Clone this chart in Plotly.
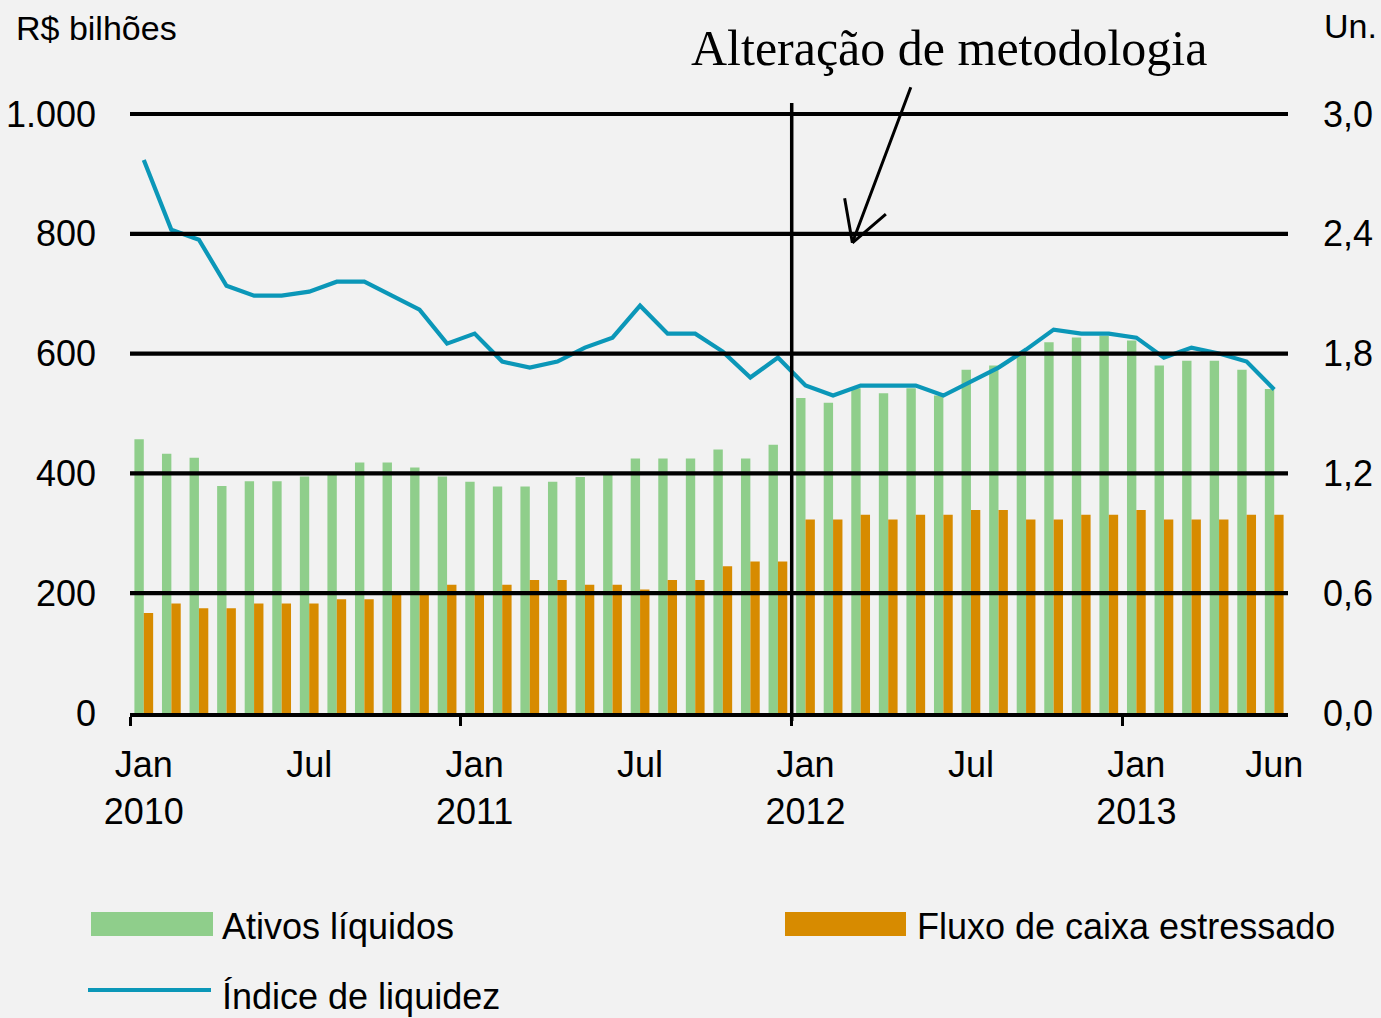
import plotly.graph_objects as go

# ---------------- data ----------------
meses_idx = list(range(42))  # Jan 2010 ... Jun 2013
tick_pos = [0, 6, 12, 18, 24, 30, 36, 41]
tick_txt = ["Jan<br>2010", "Jul", "Jan<br>2011", "Jul", "Jan<br>2012", "Jul", "Jan<br>2013", "Jun"]

ativos_liquidos = [
    457, 433, 426, 379, 387, 387, 395, 402, 418, 418, 410, 395,
    386, 378, 378, 386, 394, 402, 425, 425, 425, 440, 425, 448,
    526, 518, 542, 534, 542, 530, 573, 580, 596, 619, 627, 630,
    622, 580, 588, 588, 573, 541,
]
fluxo_caixa = [
    167, 183, 175, 175, 183, 183, 183, 190, 190, 198, 198, 214,
    198, 214, 222, 222, 214, 214, 206, 222, 222, 245, 253, 253,
    323, 323, 331, 323, 331, 331, 339, 339, 323, 323, 331, 331,
    339, 323, 323, 323, 331, 331,
]
indice_liquidez = [
    2.77, 2.42, 2.37, 2.14, 2.09, 2.09, 2.11, 2.16, 2.16, 2.09, 2.02, 1.85,
    1.90, 1.76, 1.73, 1.76, 1.83, 1.88, 2.04, 1.90, 1.90, 1.81, 1.68, 1.78,
    1.64, 1.59, 1.64, 1.64, 1.64, 1.59, 1.66, 1.73, 1.82, 1.92, 1.90, 1.90,
    1.88, 1.78, 1.83, 1.80, 1.76, 1.62,
]
left_ticks = [0, 200, 400, 600, 800, 1000]
left_txt = ["0", "200", "400", "600", "800", "1.000"]
right_ticks = [0, 0.6, 1.2, 1.8, 2.4, 3.0]
right_txt = ["0,0", "0,6", "1,2", "1,8", "2,4", "3,0"]

# ---------------- style ----------------
GREEN = "#8fce8b"
ORANGE = "#d78b00"
TEAL = "#0b97b8"
BG = "#f2f2f2"
SANS = "Liberation Sans, Arial, sans-serif"
SERIF = "Liberation Serif, Times New Roman, serif"

W, H = 1381, 1018
ML, MR, MT, MB = 130, 93, 114, 305
PW, PH = W - ML - MR, H - MT - MB
XR = [-0.5, 41.5]
YR = [0, 1000]


def px_x(p):
    return (p - ML) / PW


def px_y(p):
    return (H - MB - p) / PH


fig = go.Figure()
fig.add_trace(go.Bar(x=meses_idx, y=ativos_liquidos, name="Ativos líquidos",
                     marker=dict(color=GREEN, line=dict(width=0))))
fig.add_trace(go.Bar(x=meses_idx, y=fluxo_caixa, name="Fluxo de caixa estressado",
                     marker=dict(color=ORANGE, line=dict(width=0))))
fig.add_trace(go.Scatter(x=meses_idx, y=indice_liquidez, name="Índice de liquidez",
                         mode="lines", line=dict(color=TEAL, width=4.2), yaxis="y2"))

shapes = []
# horizontal gridlines (drawn above the bars as in the original)
for v in left_ticks[1:]:
    yp = (v - YR[0]) / (YR[1] - YR[0])
    shapes.append(dict(type="line", xref="paper", yref="paper", x0=0, x1=1, y0=yp, y1=yp,
                       line=dict(color="black", width=4.2), layer="above"))
# methodology-change vertical line between Dec 2011 and Jan 2012
xv = (23.5 - XR[0]) / (XR[1] - XR[0])
shapes.append(dict(type="line", xref="paper", yref="paper", x0=xv, x1=xv,
                   y0=px_y(721), y1=px_y(103), line=dict(color="black", width=3.5), layer="above"))

# custom legend swatches
shapes.append(dict(type="rect", xref="paper", yref="paper", x0=px_x(91), x1=px_x(213),
                   y0=px_y(936), y1=px_y(912), fillcolor=GREEN, line=dict(width=0)))
shapes.append(dict(type="rect", xref="paper", yref="paper", x0=px_x(785), x1=px_x(906),
                   y0=px_y(936), y1=px_y(912), fillcolor=ORANGE, line=dict(width=0)))
shapes.append(dict(type="line", xref="paper", yref="paper", x0=px_x(88), x1=px_x(211),
                   y0=px_y(990), y1=px_y(990), line=dict(color=TEAL, width=4)))

annotations = [
    dict(text="R$ bilhões", xref="paper", yref="paper", x=px_x(14), y=px_y(28),
         xanchor="left", yanchor="middle", showarrow=False, font=dict(size=34)),
    dict(text="Un.", xref="paper", yref="paper", x=px_x(1379), y=px_y(26),
         xanchor="right", yanchor="middle", showarrow=False, font=dict(size=34)),
    dict(text="Alteração de metodologia", xref="paper", yref="paper", x=px_x(949), y=px_y(48),
         xanchor="center", yanchor="middle", showarrow=False,
         font=dict(family=SERIF, size=50, color="black")),
    dict(text="Ativos líquidos", xref="paper", yref="paper", x=px_x(220), y=px_y(927),
         xanchor="left", yanchor="middle", showarrow=False),
    dict(text="Fluxo de caixa estressado", xref="paper", yref="paper", x=px_x(915), y=px_y(927),
         xanchor="left", yanchor="middle", showarrow=False),
    dict(text="Índice de liquidez", xref="paper", yref="paper", x=px_x(220), y=px_y(997),
         xanchor="left", yanchor="middle", showarrow=False),
]
# arrow (shaft + two barbs) pointing at the methodology change
tip_x, tip_y = 25.7, 785
for ax, ay in [(59, -157), (-8, -46), (35, -30)]:
    annotations.append(dict(text="", x=tip_x, y=tip_y, xref="x", yref="y", ax=ax, ay=ay,
                            axref="pixel", ayref="pixel", showarrow=True, arrowhead=0,
                            arrowwidth=3, arrowcolor="black", standoff=0, startstandoff=0))

fig.update_layout(
    width=W, height=H,
    margin=dict(l=ML, r=MR, t=MT, b=MB, autoexpand=False),
    paper_bgcolor=BG, plot_bgcolor=BG,
    font=dict(family=SANS, size=36, color="black"),
    barmode="group", bargap=0.32, bargroupgap=0,
    showlegend=False,
    xaxis=dict(range=XR, tickmode="array", tickvals=tick_pos, ticktext=tick_txt,
               ticks="", showgrid=False, zeroline=False, showline=True,
               linecolor="black", linewidth=4, ticklabelstandoff=17,
               minor=dict(tick0=-0.5, dtick=12, ticks="outside", ticklen=9,
                          tickwidth=3, tickcolor="black", showgrid=False)),
    yaxis=dict(range=YR, tickmode="array", tickvals=left_ticks, ticktext=left_txt,
               ticks="", showgrid=False, zeroline=False, showline=False,
               ticklabelstandoff=33),
    yaxis2=dict(range=[0, 3], tickmode="array", tickvals=right_ticks, ticktext=right_txt,
                overlaying="y", side="right", ticks="", showgrid=False, zeroline=False,
                showline=False, ticklabelstandoff=34),
    shapes=shapes,
    annotations=annotations,
)

fig.write_html("out.html", config={"displayModeBar": False},
               post_script="document.body.style.margin='0';document.body.style.overflow='hidden';")
